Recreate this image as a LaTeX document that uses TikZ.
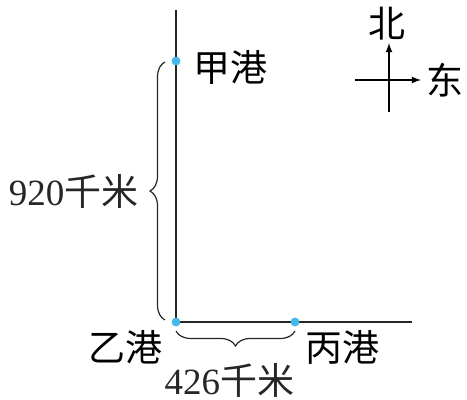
\documentclass[tikz,border=0pt]{standalone}
\usepackage{fontspec}
\setmainfont{Liberation Serif}
\newfontfamily\cjk{Noto Sans CJK SC}
\usetikzlibrary{arrows}
\usetikzlibrary{positioning}
\usetikzlibrary{calc}
\usetikzlibrary{decorations.pathreplacing}
\definecolor{portblue}{RGB}{70,185,235}

\begin{document}
\begin{tikzpicture}[x=0.5pt,y=-0.5pt]
\tikzstyle{port} = [circle, fill=portblue, inner sep=0pt, minimum size=4.3pt]
\tikzstyle{txt} = [font=\fontsize{18.5}{20}\selectfont, inner sep=1pt]
\tikzstyle{route} = [line width=0.7pt, black!85]
\tikzstyle{brace} = [decorate, decoration={brace, amplitude=7.5pt}, line width=0.6pt, black!85]
\useasboundingbox (0,0) rectangle (467,400);
% ports
\coordinate (top) at (176,10);
\coordinate (endE) at (412,322);
\node [port] (jia) at (176,61) {};
\node [port] (yi) at (176,322) {};
\node [port] (bing) at (295,322) {};
% routes
\draw [route] (top) -- (yi.center) -- (endE);
\node [port] at (jia) {};
\node [port] at (yi) {};
\node [port] at (bing) {};
% port names
\node [txt, right=5pt of jia, yshift=-3pt] (jialbl) {\cjk 甲港};
\node [txt, below left=1.5pt and 4pt of yi] (yilbl) {\cjk 乙港};
\node [txt, below right=1.5pt and 2.5pt of bing] (binglbl) {\cjk 丙港};
% distances
\draw [brace] ($(yi)+(-11,-2)$) -- node [txt, midway, left=12pt] (dist1) {920\cjk 千米} ($(jia)+(-11,1)$);
\draw [brace] ($(bing)+(0,9)$) -- node [txt, midway, below=15pt, xshift=-3pt] (dist2) {426\cjk 千米} ($(yi)+(0,9)$);
% compass
\coordinate (cnorth) at (389,43);
\coordinate (csouth) at (389,112);
\coordinate (cwest) at (355,80);
\coordinate (ceast) at (421,80);
\draw[->,>=latex, line width=0.6pt] (csouth) -- (cnorth);
\draw[->,>=latex, line width=0.6pt] (cwest) -- (ceast);
\node [txt, above=0pt of cnorth, xshift=-1pt] (north) {\cjk 北};
\node [txt, right=2.5pt of ceast, inner sep=0pt] (east) {\cjk 东};
\end{tikzpicture}
\end{document}
